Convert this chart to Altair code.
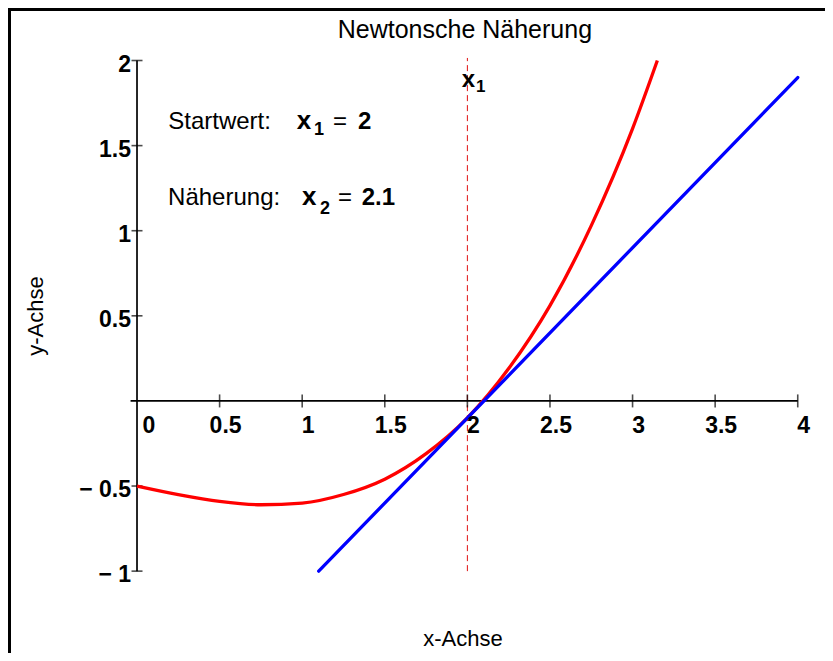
import altair as alt
import pandas as pd

# ---------------- data ----------------
curve_x = [0.0, 0.25, 0.5, 0.75, 1.0, 1.25, 1.5, 1.75, 2.0, 2.25, 2.5, 2.75, 3.0, 3.15]
curve_y = [-0.50, -0.55, -0.59, -0.61, -0.60, -0.55, -0.46, -0.31, -0.10, 0.19, 0.56, 1.03, 1.60, 2.00]

tangent_x = [1.1, 4.0]
tangent_y = [-1.0, 1.9]

start_value = 2      # x1
approx_value = 2.1   # x2

x_ticks = [0, 0.5, 1, 1.5, 2, 2.5, 3, 3.5, 4]
x_tick_labels = ["0", "0.5", "1", "1.5", "2", "2.5", "3", "3.5", "4"]
y_ticks = [-1, -0.5, 0.5, 1, 1.5, 2]
y_tick_labels = ["\u2212 1", "\u2212 0.5", "0.5", "1", "1.5", "2"]

title_text = "Newtonsche N\u00e4herung"
x_title = "x-Achse"
y_title = "y-Achse"

# ---------------- layout ----------------
W, H = 817, 645
FONT = "Liberation Sans"
xs = alt.Scale(domain=[-0.781, 4.165], nice=False, zero=False)
ys = alt.Scale(domain=[-1.481, 2.3085], nice=False, zero=False)


def X(f):
    return alt.X(f, type="quantitative", scale=xs, axis=None)


def Y(f):
    return alt.Y(f, type="quantitative", scale=ys, axis=None)


one = pd.DataFrame({"a": [0]})

border_top = alt.Chart(one).mark_rule(color="black", strokeWidth=3).encode(
    x=alt.value(0), x2=alt.value(W), y=alt.value(1.5))
border_left = alt.Chart(one).mark_rule(color="black", strokeWidth=3).encode(
    x=alt.value(1.5), y=alt.value(0), y2=alt.value(H))

curve_df = pd.DataFrame({"x": curve_x, "y": curve_y})
tan_df = pd.DataFrame({"x": tangent_x, "y": tangent_y})

curve = alt.Chart(curve_df).mark_line(color="#ff0000", strokeWidth=3.3, interpolate="monotone").encode(
    x=X("x"), y=Y("y"), order="x:Q")
tangent = alt.Chart(tan_df).mark_line(color="#0000ff", strokeWidth=3.3, strokeCap="round").encode(
    x=X("x"), y=Y("y"))

dash_df = pd.DataFrame({"x": [start_value], "y": [-1.0], "y2": [2.015]})
dashed = alt.Chart(dash_df).mark_rule(color="#e01010", strokeWidth=1, strokeDash=[6, 4]).encode(
    x=X("x"), y=Y("y"), y2="y2")

xaxis_df = pd.DataFrame({"x": [-0.039], "x2": [4.0], "y": [0.0]})
yaxis_df = pd.DataFrame({"x": [0.0], "y": [-1.0], "y2": [2.0]})
xaxis = alt.Chart(xaxis_df).mark_rule(color="black", strokeWidth=1.7).encode(x=X("x"), x2="x2", y=Y("y"))
yaxis = alt.Chart(yaxis_df).mark_rule(color="black", strokeWidth=1.7).encode(x=X("x"), y=Y("y"), y2="y2")

xt_df = pd.DataFrame({"v": x_ticks, "lab": x_tick_labels, "z": [0.0] * len(x_ticks)})
yt_df = pd.DataFrame({"v": y_ticks, "lab": y_tick_labels, "z": [0.0] * len(y_ticks)})

xticks = alt.Chart(xt_df).transform_filter("datum.v != 0").mark_tick(
    orient="vertical", size=13, thickness=1.6, color="black").encode(x=X("v"), y=Y("z"))
yticks = alt.Chart(yt_df).mark_tick(
    orient="horizontal", size=11, thickness=1.6, color="black").encode(x=X("z"), y=Y("v"))

LAB = 23
xlabels = alt.Chart(xt_df).transform_filter("datum.v != 0").mark_text(
    font=FONT, fontSize=LAB, fontWeight="bold", align="center", baseline="alphabetic",
    dx=6, dy=32, color="black").encode(x=X("v"), y=Y("z"), text="lab:N")
xlabel0 = alt.Chart(xt_df).transform_filter("datum.v == 0").mark_text(
    font=FONT, fontSize=LAB, fontWeight="bold", align="center", baseline="alphabetic",
    dx=12, dy=32, color="black").encode(x=X("v"), y=Y("z"), text="lab:N")
ylabels = alt.Chart(yt_df).mark_text(
    font=FONT, fontSize=LAB, fontWeight="bold", align="right", baseline="middle",
    dx=-6, dy=4, color="black").encode(x=X("z"), y=Y("v"), text="lab:N")

# titles and annotations (placed in data coordinates)
reg_df = pd.DataFrame({
    "t": [title_text, "Startwert:", "N\u00e4herung:", "=", "=", x_title],
    "x": [1.985, 0.189, 0.188, 1.186, 1.217, 1.973],
    "y": [2.13, 1.596, 1.151, 1.596, 1.151, -1.440],
    "s": [25, 24, 24, 24, 24, 22],
    "al": ["c", "l", "l", "l", "l", "c"],
})
reg_left = alt.Chart(reg_df).transform_filter("datum.al == 'l'").mark_text(
    font=FONT, align="left", baseline="alphabetic", color="black").encode(
    x=X("x"), y=Y("y"), text="t:N", size=alt.Size("s:Q", scale=None))
reg_center = alt.Chart(reg_df).transform_filter("datum.al == 'c'").mark_text(
    font=FONT, align="center", baseline="alphabetic", color="black").encode(
    x=X("x"), y=Y("y"), text="t:N", size=alt.Size("s:Q", scale=None))

bold_df = pd.DataFrame({
    "t": ["x", "1", str(start_value), "x", "2", str(approx_value), "x", "1"],
    "x": [0.967, 1.071, 1.338, 0.999, 1.108, 1.360, 1.9655, 2.052],
    "y": [1.596, 1.561, 1.596, 1.151, 1.098, 1.151, 1.846, 1.817],
    "s": [26, 18, 24, 26, 18, 24, 24, 17],
})
bold = alt.Chart(bold_df).mark_text(
    font=FONT, fontWeight="bold", align="left", baseline="alphabetic", color="black").encode(
    x=X("x"), y=Y("y"), text="t:N", size=alt.Size("s:Q", scale=None))

ytitle_df = pd.DataFrame({"t": [y_title], "x": [-0.6126], "y": [0.499]})
ytitle = alt.Chart(ytitle_df).mark_text(
    font=FONT, fontSize=22, angle=270, align="center", baseline="middle", color="black").encode(
    x=X("x"), y=Y("y"), text="t:N")

chart = alt.layer(
    border_top, border_left, dashed, xaxis, yaxis, xticks, yticks,
    curve, tangent, xlabels, xlabel0, ylabels, reg_left, reg_center, bold, ytitle,
).properties(
    width=W, height=H, padding=0, autosize=alt.AutoSizeParams(type="none"), background="white"
).configure_view(strokeWidth=0)

chart.save("out.html", embed_options={"renderer": "svg", "actions": False})
